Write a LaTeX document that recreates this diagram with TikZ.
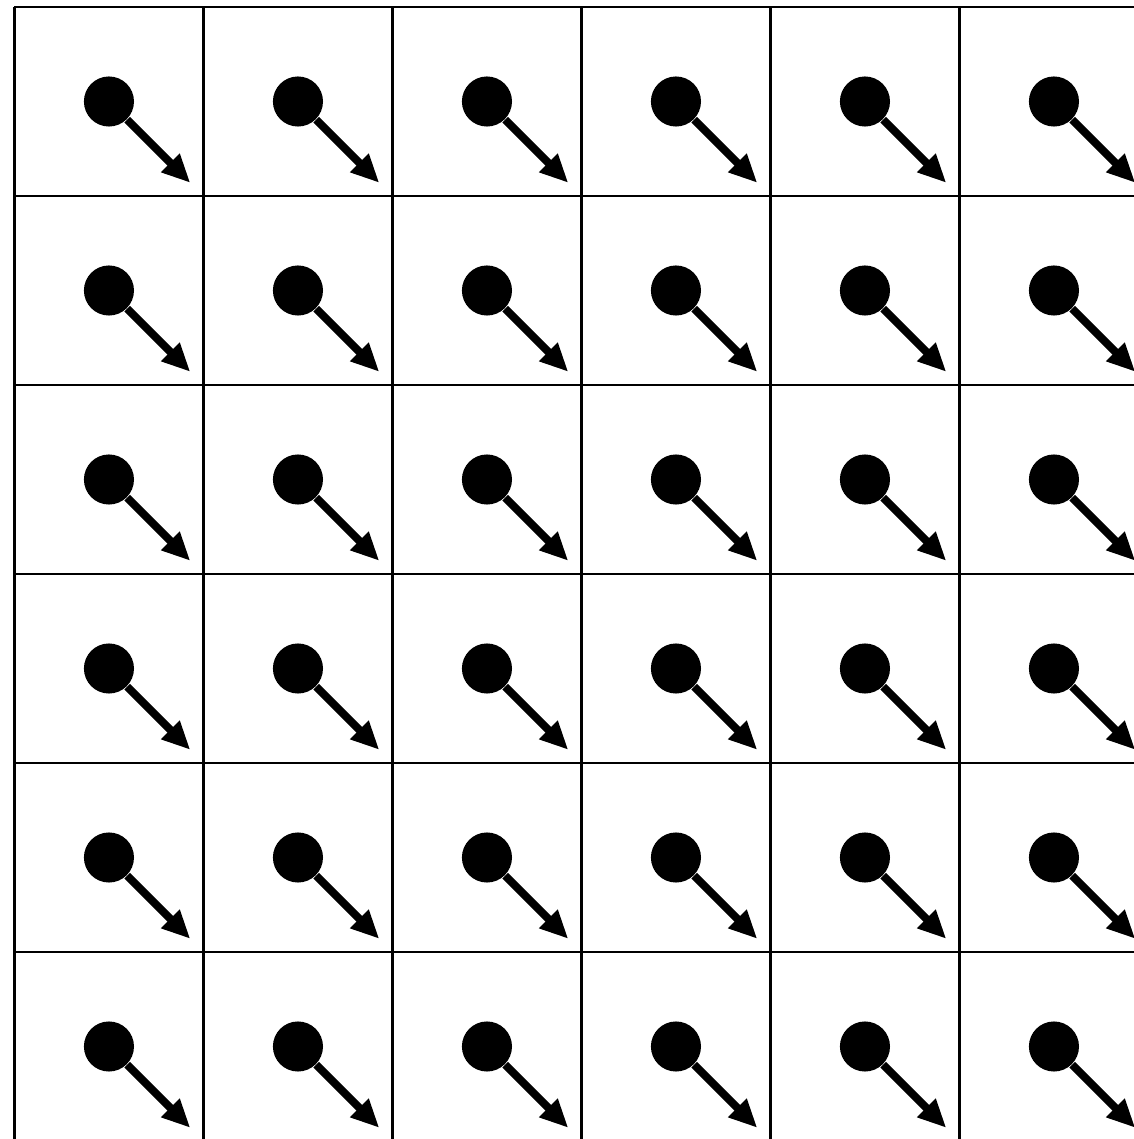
\documentclass[tikz,border=0pt]{standalone}
\usepackage{tikz}
\usetikzlibrary{arrows.meta}

\begin{document}
\begin{tikzpicture}[
    dot/.style={circle, fill=black, inner sep=0pt, minimum size=0.53cm},
    vec/.style={line width=2.4pt, -{Triangle[length=8.5pt, width=7.4pt]}},
    gridline/.style={line width=0.8pt},
]
% frame (grid runs off the right and bottom edges)
\clip (-0.153,0.074) rectangle (11.847,-11.979);

% 6x6 cells
\foreach \k in {0,...,6} {
    \draw[gridline] (2*\k,0) -- (2*\k,-12.5);
    \draw[gridline] (0,-2*\k) -- (12.5,-2*\k);
}

% one dot and one vector per cell
\foreach \i in {1,...,6} {
    \foreach \j in {1,...,6} {
        \node[dot] (d-\i-\j) at (2*\i-1, -2*\j+1) {};
        \coordinate (t-\i-\j) at (2*\i-0.14, -2*\j+0.14);
        \draw[vec] (d-\i-\j) -- (t-\i-\j);
    }
}
\end{tikzpicture}
\end{document}
